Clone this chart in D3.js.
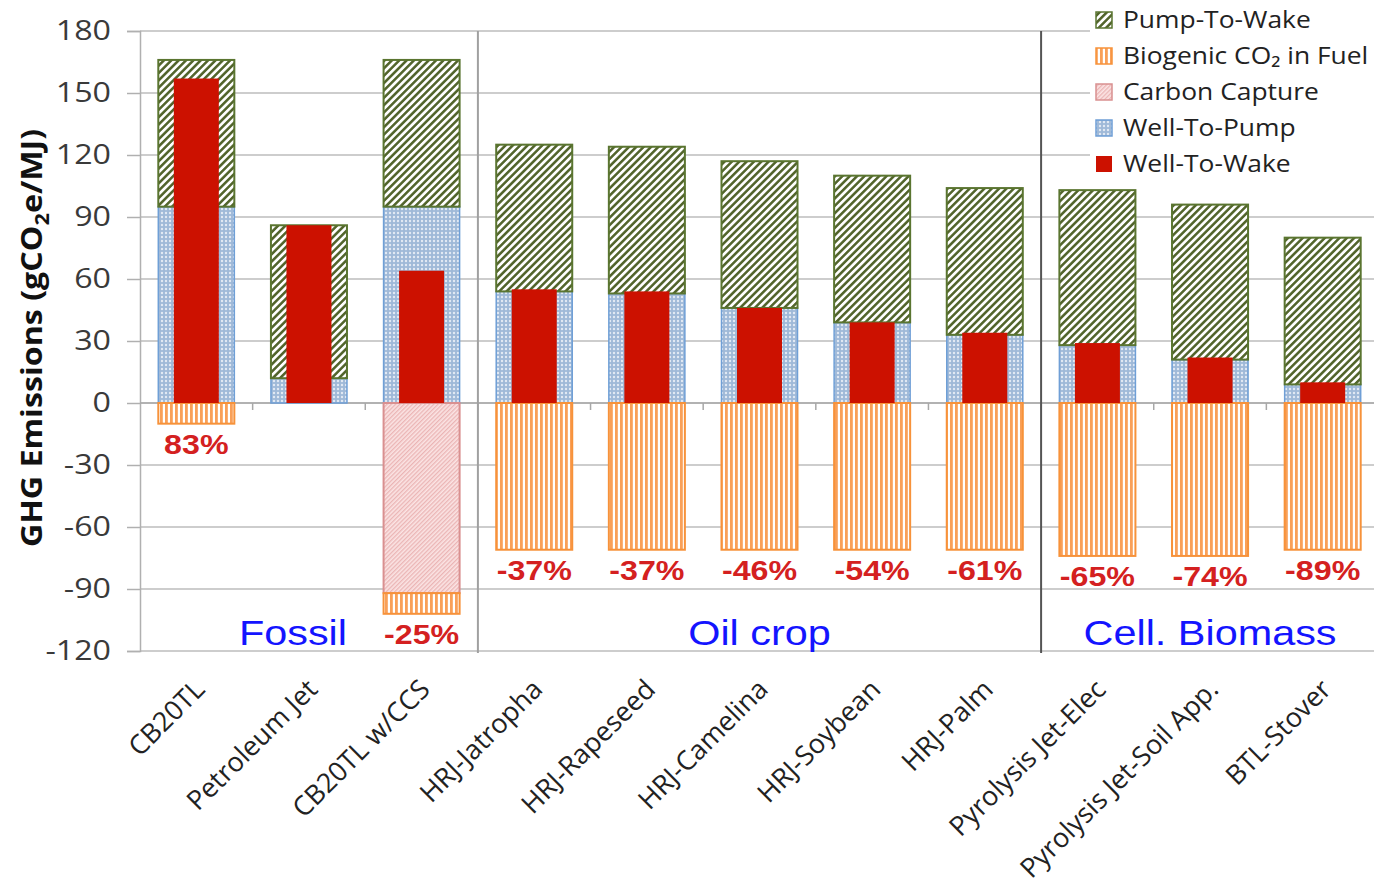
<!DOCTYPE html>
<html>
<head>
<meta charset="utf-8">
<script src="https://cdn.jsdelivr.net/npm/d3@7"></script>
<style>
  body { margin: 0; background: #fff; }
  svg { display: block; }
</style>
</head>
<body>
<svg width="1374" height="885"></svg>
<script>
const categories = [
  "CB20TL", "Petroleum Jet", "CB20TL w/CCS", "HRJ-Jatropha", "HRJ-Rapeseed",
  "HRJ-Camelina", "HRJ-Soybean", "HRJ-Palm", "Pyrolysis Jet-Elec",
  "Pyrolysis Jet-Soil App.", "BTL-Stover"
];
const wellToPump = [95, 12, 95, 54, 53, 46, 39, 33, 28, 21, 9];
const pumpToWake = [71, 74, 71, 71, 71, 71, 71, 71, 75, 75, 71];
const wellToWake = [157, 86, 64, 55, 54, 46, 39, 34, 29, 22, 10];
const carbonCapture = [0, 0, -92, 0, 0, 0, 0, 0, 0, 0, 0];
const biogenic = [-10, 0, -10, -71, -71, -71, -71, -71, -74, -74, -71];
const changeLabels = ["83%", "", "-25%", "-37%", "-37%", "-46%", "-54%", "-61%", "-65%", "-74%", "-89%"];
const yTicks = [-120, -90, -60, -30, 0, 30, 60, 90, 120, 150, 180];
const groupNames = ["Fossil", "Oil crop", "Cell. Biomass"];
const groupStart = [0, 3, 8];
const groupEnd = [2, 7, 10];

const svg = d3.select("svg");
const margin = { top: 31, right: -5, bottom: 234, left: 140 };
const width = +svg.attr("width") - margin.left - margin.right;
const height = +svg.attr("height") - margin.top - margin.bottom;
const g = svg.append("g").attr("transform", `translate(${margin.left},${margin.top})`);

const x = d3.scaleBand().domain(categories).range([0, width]).paddingInner(0.325).paddingOuter(0.1625);
const y = d3.scaleLinear().domain([-120, 180]).range([height, 0]);
const step = x.step();

// patterns
const defs = svg.append("defs");
const ptw = defs.append("pattern").attr("id", "ptw").attr("patternUnits", "userSpaceOnUse")
  .attr("width", 5.2).attr("height", 5.2).attr("patternTransform", "rotate(45)");
ptw.append("rect").attr("width", 5.2).attr("height", 5.2).attr("fill", "#fff");
ptw.append("line").attr("x1", 1.3).attr("x2", 1.3).attr("y1", 0).attr("y2", 5.2)
  .attr("stroke", "#4f6228").attr("stroke-width", 2.5);

const wtp = defs.append("pattern").attr("id", "wtp").attr("patternUnits", "userSpaceOnUse")
  .attr("width", 4).attr("height", 4);
wtp.append("rect").attr("width", 4).attr("height", 4).attr("fill", "#9fb9d8");
wtp.append("circle").attr("cx", 2).attr("cy", 2).attr("r", 1.2).attr("fill", "#e2eaf4");

const bio = defs.append("pattern").attr("id", "bio").attr("patternUnits", "userSpaceOnUse")
  .attr("width", 5).attr("height", 5);
bio.append("rect").attr("width", 5).attr("height", 5).attr("fill", "#fff");
bio.append("rect").attr("width", 2.8).attr("height", 5).attr("fill", "#f9a058");

const cap = defs.append("pattern").attr("id", "cap").attr("patternUnits", "userSpaceOnUse")
  .attr("width", 3).attr("height", 3).attr("patternTransform", "rotate(45)");
cap.append("rect").attr("width", 3).attr("height", 3).attr("fill", "#fbe4e4");
cap.append("line").attr("x1", 0.7).attr("x2", 0.7).attr("y1", 0).attr("y2", 3)
  .attr("stroke", "#eab0b0").attr("stroke-width", 1.2);

// gridlines
g.append("g").selectAll("line").data(yTicks).join("line")
  .attr("x1", 0).attr("x2", width)
  .attr("y1", (d) => y(d)).attr("y2", (d) => y(d))
  .attr("stroke", "#bdbdbd").attr("stroke-width", 1.5);

// y axis
const yAxis = g.append("g")
  .call(d3.axisLeft(y).tickValues(yTicks).tickSize(13).tickPadding(16).tickFormat((d) => String(d)));
yAxis.select(".domain").attr("stroke", "#b0b0b0").attr("stroke-width", 1.5);
yAxis.selectAll(".tick line").attr("stroke", "#b0b0b0").attr("stroke-width", 1.5);
yAxis.selectAll(".tick text")
  .attr("x", -29 / 1.15).attr("transform", "scale(1.15,1)")
  .attr("font-family", "'Open Sans', sans-serif").attr("font-size", 28).attr("fill", "#3a3a3a");

// zero line with boundary ticks
g.append("line").attr("x1", 0).attr("x2", width).attr("y1", y(0)).attr("y2", y(0))
  .attr("stroke", "#a8a8a8").attr("stroke-width", 1.5);
g.append("g").selectAll("line").data(categories.slice(1)).join("line")
  .attr("x1", (d) => x(d) - (step - x.bandwidth()) / 2)
  .attr("x2", (d) => x(d) - (step - x.bandwidth()) / 2)
  .attr("y1", y(0)).attr("y2", y(0) + 7)
  .attr("stroke", "#a8a8a8").attr("stroke-width", 1.5);

// group separators
const sepColors = ["#a0a0a0", "#555"];
g.append("g").selectAll("line").data(groupStart.slice(1)).join("line")
  .attr("x1", (d) => x(categories[d]) - (step - x.bandwidth()) / 2)
  .attr("x2", (d) => x(categories[d]) - (step - x.bandwidth()) / 2)
  .attr("y1", y(180)).attr("y2", y(-120) + 2)
  .attr("stroke", (d, i) => sepColors[i]).attr("stroke-width", 2);

const rows = categories.map((c, i) => ({
  c, i, wtp: wellToPump[i], ptw: pumpToWake[i], wtw: wellToWake[i],
  cap: carbonCapture[i], bio: biogenic[i], label: changeLabels[i]
}));

const bars = g.append("g");
// well-to-pump
bars.selectAll(".wtp").data(rows).join("rect").attr("class", "wtp")
  .attr("x", (d) => x(d.c)).attr("width", x.bandwidth())
  .attr("y", (d) => y(d.wtp)).attr("height", (d) => y(0) - y(d.wtp))
  .attr("fill", "url(#wtp)").attr("stroke", "#6f9fd6").attr("stroke-width", 1.5);
// pump-to-wake
bars.selectAll(".ptw").data(rows).join("rect").attr("class", "ptw")
  .attr("x", (d) => x(d.c)).attr("width", x.bandwidth())
  .attr("y", (d) => y(d.wtp + d.ptw)).attr("height", (d) => y(d.wtp) - y(d.wtp + d.ptw))
  .attr("fill", "url(#ptw)").attr("stroke", "#5a7530").attr("stroke-width", 2);
// carbon capture
bars.selectAll(".cap").data(rows.filter((d) => d.cap < 0)).join("rect").attr("class", "cap")
  .attr("x", (d) => x(d.c)).attr("width", x.bandwidth())
  .attr("y", y(0)).attr("height", (d) => y(d.cap) - y(0))
  .attr("fill", "url(#cap)").attr("stroke", "#d99090").attr("stroke-width", 2);
// biogenic
bars.selectAll(".bio").data(rows.filter((d) => d.bio < 0)).join("rect").attr("class", "bio")
  .attr("x", (d) => x(d.c)).attr("width", x.bandwidth())
  .attr("y", (d) => y(d.cap)).attr("height", (d) => y(d.cap + d.bio) - y(d.cap))
  .attr("fill", "url(#bio)").attr("stroke", "#f7923a").attr("stroke-width", 2);
// well-to-wake
const inner = 45;
bars.selectAll(".wtw").data(rows).join("rect").attr("class", "wtw")
  .attr("x", (d) => x(d.c) + (x.bandwidth() - inner) / 2).attr("width", inner)
  .attr("y", (d) => y(d.wtw)).attr("height", (d) => y(0) - y(d.wtw))
  .attr("fill", "#cc1100");

// percent labels
g.append("g").selectAll("text").data(rows.filter((d) => d.label)).join("text")
  .attr("transform", (d) => `translate(${x(d.c) + x.bandwidth() / 2},${y(d.cap + d.bio) + 30}) scale(1.15,1)`)
  .attr("text-anchor", "middle")
  .attr("font-family", "'Liberation Sans', Arial, sans-serif").attr("font-weight", "bold")
  .attr("font-size", 28).attr("fill", "#d42020")
  .text((d) => d.label);

// group labels
g.append("g").selectAll("text").data(groupNames).join("text")
  .attr("transform", (d, i) => {
    const cx = (x(categories[groupStart[i]]) + x(categories[groupEnd[i]]) + x.bandwidth()) / 2;
    return `translate(${cx + (i === 0 ? -16 : 0)},${y(-120) - 6}) scale(1.15,1)`;
  })
  .attr("text-anchor", "middle")
  .attr("font-family", "'Liberation Sans', Arial, sans-serif")
  .attr("font-size", 36).attr("fill", "#1414ff")
  .text((d) => d);

// x labels
g.append("g").selectAll("text").data(categories).join("text")
  .attr("transform", (d) => `translate(${x(d) + x.bandwidth() / 2 + 10},${height + 40}) rotate(-45)`)
  .attr("text-anchor", "end")
  .attr("font-family", "'Open Sans', sans-serif").attr("font-size", 27).attr("fill", "#222")
  .text((d) => d);

// y title
const title = svg.append("text")
  .attr("transform", `translate(42,${margin.top + y(30) - 3}) rotate(-90) scale(1.15,1)`)
  .attr("text-anchor", "middle")
  .attr("font-family", "'Open Sans', sans-serif").attr("font-weight", "bold")
  .attr("font-size", 28).attr("fill", "#111");
title.append("tspan").text("GHG Emissions (gCO");
title.append("tspan").attr("font-size", 19).attr("dy", 7).text("2");
title.append("tspan").attr("dy", -7).text("e/MJ)");

// legend
const legendItems = [
  { name: "Pump-To-Wake", fill: "url(#ptw)", stroke: "#5a7530" },
  { name: "Biogenic CO\u2082 in Fuel", fill: "url(#bio)", stroke: "#f7923a" },
  { name: "Carbon Capture", fill: "url(#cap)", stroke: "#d99090" },
  { name: "Well-To-Pump", fill: "url(#wtp)", stroke: "#6f9fd6" },
  { name: "Well-To-Wake", fill: "#cc1100", stroke: "none" }
];
const legend = svg.append("g").attr("transform", "translate(1090,0)");
legend.append("rect").attr("width", 284).attr("height", 182).attr("fill", "#fff");
const li = legend.selectAll("g").data(legendItems).join("g")
  .attr("transform", (d, i) => `translate(0,${20 + i * 36})`);
li.append("rect").attr("x", 6).attr("y", -8).attr("width", 16).attr("height", 16)
  .attr("fill", (d) => d.fill).attr("stroke", (d) => d.stroke).attr("stroke-width", 1.5);
li.append("text").attr("x", 30).attr("dy", "0.35em")
  .attr("font-family", "'Open Sans', sans-serif").attr("font-size", 24).attr("fill", "#222")
  .attr("transform", "scale(1.1,1)")
  .text((d) => d.name);
</script>
</body>
</html>
